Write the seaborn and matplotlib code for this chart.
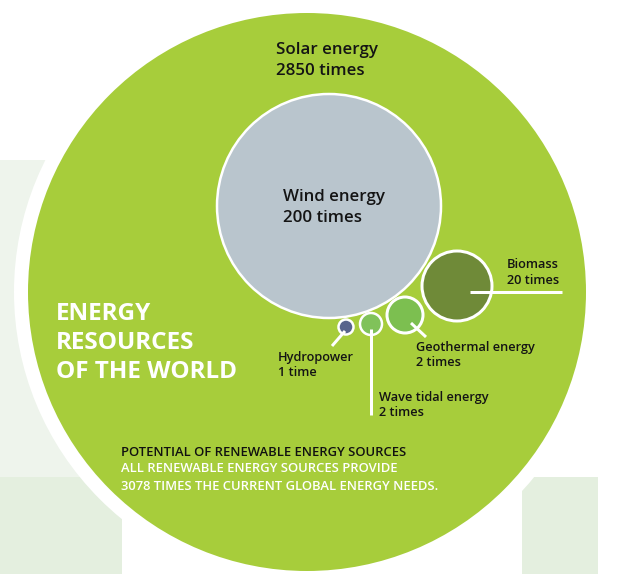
import matplotlib
matplotlib.use("Agg")
import matplotlib.pyplot as plt
from matplotlib.patches import Rectangle
import numpy as np
import pandas as pd
import seaborn as sns

# ---------------- data ----------------
sources = ["Solar energy", "Wind energy", "Biomass", "Geothermal energy",
           "Wave tidal energy", "Hydropower"]
multiples = [2850, 200, 20, 2, 2, 1]
title_lines = ["ENERGY", "RESOURCES", "OF THE WORLD"]
note_head = "POTENTIAL OF RENEWABLE ENERGY SOURCES"
note_lines = ["ALL RENEWABLE ENERGY SOURCES PROVIDE",
              "3078 TIMES THE CURRENT GLOBAL ENERGY NEEDS."]

# ---------------- layout (pixel space) ----------------
bub_x = [307, 329, 457, 405, 371, 346]
bub_y = [292, 206, 286, 315, 324, 327]
bub_r = [286, 112, 35, 18, 11, 7.5]          # radius to edge centre, px
bub_lw = [14, 2.5, 3, 3, 2.5, 2.5]           # edge width, px
colors = ["#a7cd3b", "#b9c5cd", "#6f8a38", "#7cbf50", "#80c25a", "#58648c"]

lab_x = [276, 283, 507, 416, 379, 278]
lab_y = [50, 197, 264, 347, 397, 357]
lab_gap = [21, 21, 16, 16, 15, 16]
lab_fs = [12.2, 12.2, 9.2, 9.2, 9.2, 9.2]

leaders = {
    "Hydropower": [(345, 331), (332, 346)],
    "Wave tidal energy": [(371, 329), (371, 415)],
    "Geothermal energy": [(411, 323), (426, 337)],
    "Biomass": [(470, 292), (562, 292)],
}

W, H, DPI = 630, 574, 100
PT = 72.0 / DPI   # points per pixel

sns.set_theme(style="white")
plt.rcParams["font.family"] = ["Open Sans", "DejaVu Sans"]

fig = plt.figure(figsize=(W / DPI, H / DPI), dpi=DPI)
ax = fig.add_axes([0, 0, 1, 1])
ax.set_xlim(0, W)
ax.set_ylim(H, 0)
ax.axis("off")

# background panels
ax.add_patch(Rectangle((0, 160), 200, 317, color="#eef4ec", zorder=0, lw=0))
ax.add_patch(Rectangle((0, 477), 122, 97, color="#e4efdf", zorder=0, lw=0))
ax.add_patch(Rectangle((522, 477), 76, 97, color="#e4efdf", zorder=0, lw=0))

df = pd.DataFrame({"x": bub_x, "y": bub_y, "source": sources, "value": multiples})
size_map = {s: (2 * r * PT) ** 2 for s, r in zip(sources, bub_r)}
pal = dict(zip(sources, colors))
sns.scatterplot(data=df, x="x", y="y", hue="source", palette=pal,
                size="source", sizes=size_map, legend=False,
                edgecolor="white", linewidth=[w * PT for w in bub_lw],
                alpha=1, ax=ax, zorder=2)
ax.set_xlim(0, W)
ax.set_ylim(H, 0)
ax.set_xlabel("")
ax.set_ylabel("")

# leader lines
for name, pts in leaders.items():
    xs, ys = zip(*pts)
    ax.plot(xs, ys, color="white", lw=3 * PT, solid_capstyle="butt", zorder=3)

# labels
for s, v, x, y, g, fs in zip(sources, multiples, lab_x, lab_y, lab_gap, lab_fs):
    unit = "time" if v == 1 else "times"
    ax.text(x, y, s, fontsize=fs, color="#141414", va="center", ha="left",
            fontweight="semibold", zorder=4)
    ax.text(x, y + g, f"{v} {unit}", fontsize=fs, color="#141414",
            va="center", ha="left", fontweight="semibold", zorder=4)

# title
for i, t in enumerate(title_lines):
    ax.text(56, 314 + i * 29, t, fontsize=17.5, fontweight="bold", color="white",
            va="center", ha="left", zorder=4)

# note
ax.text(121, 453, note_head, fontsize=9.4, color="#111111", va="center", ha="left",
        fontweight="semibold", zorder=4)
for i, t in enumerate(note_lines):
    ax.text(121, 469 + i * 17, t, fontsize=9.4, color="white", va="center", ha="left",
            fontweight="semibold", zorder=4)

fig.savefig("out.png", dpi=DPI)
